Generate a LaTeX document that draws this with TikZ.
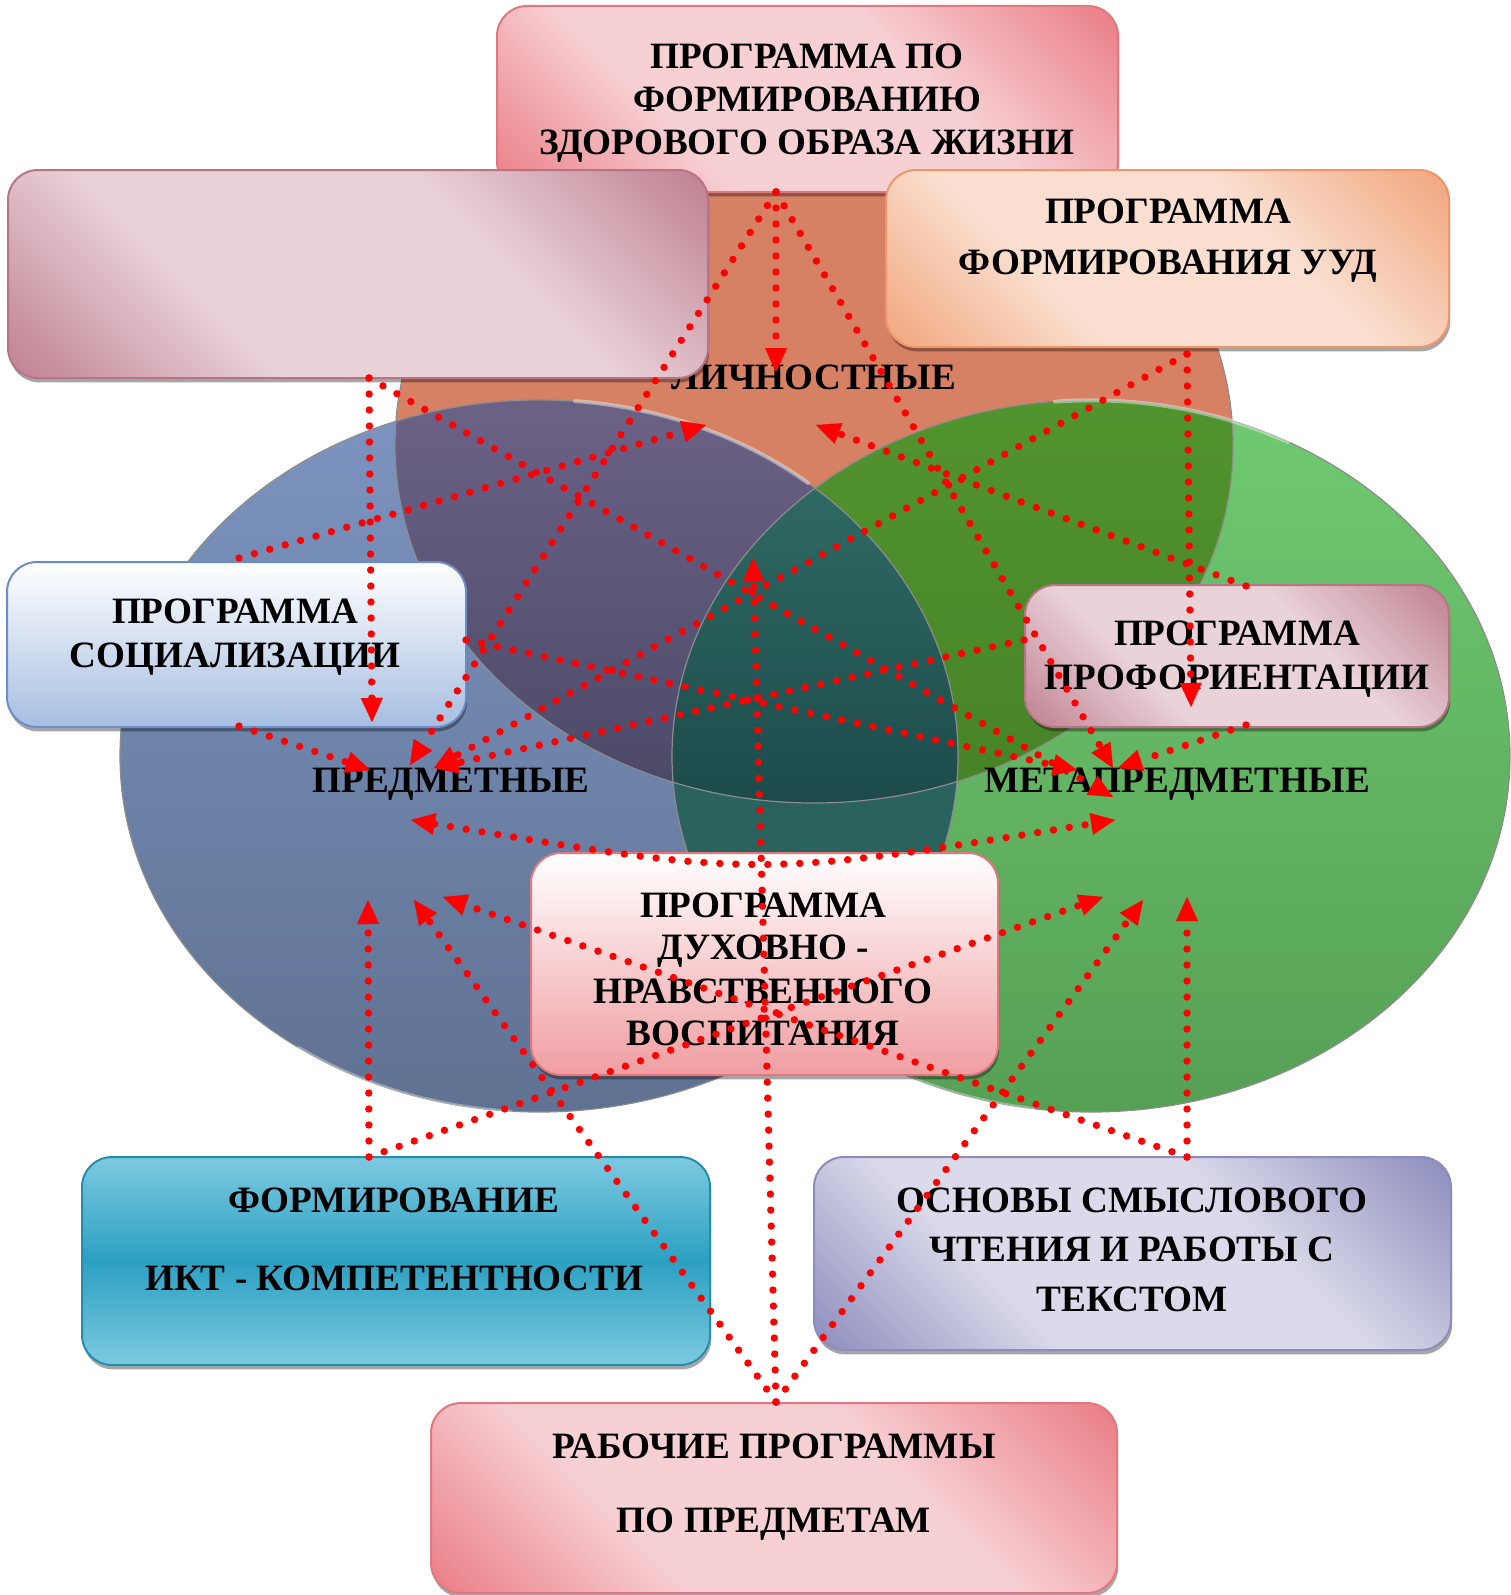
\documentclass[tikz,border=0pt]{standalone}
\usepackage{fontspec}
\setmainfont{Liberation Serif}
\usetikzlibrary{arrows.meta,shadows}
% ellipse colours
\definecolor{cTop}{RGB}{214,129,99}
\definecolor{cLtop}{RGB}{124,148,192}
\definecolor{cLbot}{RGB}{96,114,146}
\definecolor{cRtop}{RGB}{112,202,112}
\definecolor{cRbot}{RGB}{86,160,86}
\definecolor{cTLtop}{RGB}{108,98,134}
\definecolor{cTLbot}{RGB}{74,72,102}
\definecolor{cTRtop}{RGB}{82,148,46}
\definecolor{cTRbot}{RGB}{70,130,38}
\definecolor{cLR}{RGB}{42,98,94}
\definecolor{cTLRtop}{RGB}{48,106,100}
\definecolor{cTLRbot}{RGB}{28,74,74}
% box colours
\definecolor{zozD}{RGB}{234,122,130}
\definecolor{zozL}{RGB}{247,208,212}
\definecolor{zozB}{RGB}{225,120,128}
\definecolor{empD}{RGB}{190,126,143}
\definecolor{empL}{RGB}{233,210,216}
\definecolor{empB}{RGB}{185,115,135}
\definecolor{uudD}{RGB}{241,164,122}
\definecolor{uudL}{RGB}{250,223,208}
\definecolor{uudB}{RGB}{238,150,105}
\definecolor{socBot}{RGB}{166,190,225}
\definecolor{socB}{RGB}{108,142,198}
\definecolor{dukhBot}{RGB}{240,158,162}
\definecolor{dukhB}{RGB}{228,118,126}
\definecolor{iktL}{RGB}{124,202,224}
\definecolor{iktD}{RGB}{44,160,194}
\definecolor{iktB}{RGB}{38,140,172}
\definecolor{osnD}{RGB}{138,138,188}
\definecolor{osnL}{RGB}{218,218,234}
\definecolor{osnB}{RGB}{140,140,190}
\definecolor{arrRed}{RGB}{255,0,0}
\pgfdeclareverticalshading{shZoz}{100bp}{color(0bp)=(zozD); color(14bp)=(zozD); color(36bp)=(zozL); color(62bp)=(zozL); color(86bp)=(zozD); color(100bp)=(zozD)}
\pgfdeclareverticalshading{shEmp}{100bp}{color(0bp)=(empD); color(14bp)=(empD); color(36bp)=(empL); color(62bp)=(empL); color(86bp)=(empD); color(100bp)=(empD)}
\pgfdeclareverticalshading{shUud}{100bp}{color(0bp)=(uudD); color(14bp)=(uudD); color(36bp)=(uudL); color(62bp)=(uudL); color(86bp)=(uudD); color(100bp)=(uudD)}
\pgfdeclareverticalshading{shOsn}{100bp}{color(0bp)=(osnD); color(14bp)=(osnD); color(36bp)=(osnL); color(62bp)=(osnL); color(86bp)=(osnD); color(100bp)=(osnD)}
\newcommand\myEllTop{(814,445) ellipse [x radius=209.5pt, y radius=179pt]}
\newcommand\myEllLeft{(539,756) ellipse [x radius=209.5pt, y radius=178pt]}
\newcommand\myEllRight{(1091,756) ellipse [x radius=209.5pt, y radius=178pt]}
\tikzset{
  boxbase/.style={rounded corners=15pt, line width=1pt, inner sep=0pt,
    drop shadow={shadow xshift=0.6pt, shadow yshift=-2.2pt, fill=black, opacity=0.35}},
  gshade/.style={shading=#1, shading angle=-45},
  btxt/.style={font=\fontsize{18.6}{22}\selectfont\bfseries, inner sep=0pt, anchor=base},
  elab/.style={font=\fontsize{18.6}{22}\selectfont\bfseries, inner sep=0pt, anchor=base},
  conn/.style={arrRed, line width=3.7pt, line cap=round, dash pattern=on 0pt off 8pt,
    -{Triangle[length=12pt,width=11pt,line width=0.01pt]}},
  conn2/.style={arrRed, line width=3.7pt, line cap=round, dash pattern=on 0pt off 8pt,
    {Triangle[length=12pt,width=11pt,line width=0.01pt]}-{Triangle[length=12pt,width=11pt,line width=0.01pt]}},
}
\begin{document}
\begin{tikzpicture}[x=0.5pt,y=-0.5pt]
\useasboundingbox (0,0) rectangle (1510,1595);
% ---------- ellipses ----------
\fill[cTop] \myEllTop;
\shade[top color=cRtop, bottom color=cRbot] \myEllRight;
\shade[top color=cLtop, bottom color=cLbot] \myEllLeft;
\begin{scope}
  \clip \myEllTop;
  \clip \myEllLeft;
  \shade[top color=cTLtop, bottom color=cTLbot] (390,395) rectangle (1240,810);
\end{scope}
\begin{scope}
  \clip \myEllTop;
  \clip \myEllRight;
  \shade[top color=cTRtop, bottom color=cTRbot] (660,395) rectangle (1240,810);
\end{scope}
\begin{scope}
  \clip \myEllLeft;
  \clip \myEllRight;
  \fill[cLR] (660,395) rectangle (960,1120);
  \clip \myEllTop;
  \shade[top color=cTLRtop, bottom color=cTLRbot] (660,480) rectangle (960,810);
\end{scope}
\draw[black!45, line width=0.6pt] \myEllTop;
\draw[black!45, line width=0.6pt] \myEllRight;
\draw[black!45, line width=0.6pt] \myEllLeft;
% glossy rims
\draw[white, opacity=0.4, line width=2pt, line cap=round] (808,483) arc[start angle=50, end angle=85, x radius=209.5pt, y radius=178pt];
\draw[white, opacity=0.4, line width=2pt, line cap=round] (1288,442) arc[start angle=62, end angle=95, x radius=209.5pt, y radius=178pt];
\draw[white, opacity=0.3, line width=2pt, line cap=round] (299,1048) arc[start angle=235, end angle=266, x radius=209.5pt, y radius=178pt];
\draw[white, opacity=0.3, line width=2pt, line cap=round] (851,1048) arc[start angle=235, end angle=262, x radius=209.5pt, y radius=178pt];
% ---------- ellipse labels ----------
\node[elab] (lich) at (814,389) {ЛИЧНОСТНЫЕ};
\node[elab] (pred) at (451,792) {ПРЕДМЕТНЫЕ};
\node[elab] (meta) at (1177,792) {МЕТАПРЕДМЕТНЫЕ};
% ---------- boxes ----------
\node[boxbase, draw=zozB, gshade=shZoz, minimum width=310.5pt, minimum height=93pt] (zoz) at (807.5,99) {};
\node[boxbase, draw=empB, gshade=shEmp, minimum width=350pt, minimum height=104pt] (emp) at (358,274) {};
\node[boxbase, draw=uudB, gshade=shUud, minimum width=281.5pt, minimum height=88.5pt] (uud) at (1167.5,258.5) {};
\node[boxbase, draw=socB, top color=white, bottom color=socBot, minimum width=229.5pt, minimum height=82.5pt] (soc) at (236.5,644.5) {};
\node[boxbase, draw=empB, gshade=shEmp, minimum width=212pt, minimum height=71pt] (prof) at (1237,656) {};
\node[boxbase, draw=dukhB, top color=white, bottom color=dukhBot, minimum width=233.5pt, minimum height=111pt] (dukh) at (764.5,964) {};
\node[boxbase, draw=iktB, top color=iktL, bottom color=iktL, middle color=iktD, minimum width=314pt, minimum height=104pt] (ikt) at (396,1261) {};
\node[boxbase, draw=osnB, gshade=shOsn, minimum width=318.5pt, minimum height=96.5pt] (osn) at (1132.5,1253.5) {};
\node[boxbase, draw=zozB, gshade=shZoz, minimum width=343pt, minimum height=95pt] (rab) at (774,1498) {};
% ---------- box texts ----------
\node[btxt] (zozA) at (807,69) {ПРОГРАММА ПО};
\node[btxt] (zozB) at (807,112) {ФОРМИРОВАНИЮ};
\node[btxt] (zozC) at (807,155) {ЗДОРОВОГО ОБРАЗА ЖИЗНИ};
\node[btxt] (uudA) at (1168,223) {ПРОГРАММА};
\node[btxt] (uudB) at (1168,274) {ФОРМИРОВАНИЯ УУД};
\node[btxt] (socA) at (235,623) {ПРОГРАММА};
\node[btxt] (socB) at (235,667) {СОЦИАЛИЗАЦИИ};
\node[btxt] (profA) at (1237,645) {ПРОГРАММА};
\node[btxt] (profB) at (1237,689) {ПРОФОРИЕНТАЦИИ};
\node[btxt] (dukhA) at (763,917) {ПРОГРАММА};
\node[btxt] (dukhB) at (763,959) {ДУХОВНО -};
\node[btxt] (dukhC) at (763,1003) {НРАВСТВЕННОГО};
\node[btxt] (dukhD) at (763,1045) {ВОСПИТАНИЯ};
\node[btxt] (iktA) at (394,1212) {ФОРМИРОВАНИЕ};
\node[btxt] (iktB) at (394,1290) {ИКТ - КОМПЕТЕНТНОСТИ};
\node[btxt] (osnA) at (1132,1212) {ОСНОВЫ СМЫСЛОВОГО};
\node[btxt] (osnB) at (1132,1261) {ЧТЕНИЯ И РАБОТЫ С};
\node[btxt] (osnC) at (1132,1311) {ТЕКСТОМ};
\node[btxt] (rabA) at (774,1458) {РАБОЧИЕ ПРОГРАММЫ};
\node[btxt] (rabB) at (774,1532) {ПО ПРЕДМЕТАМ};
% ---------- connector ends ----------
\coordinate (T) at (776,192);
\coordinate (E) at (369,378);
\coordinate (U) at (1187,354);
\coordinate (S1) at (239,558);
\coordinate (S2) at (466,640);
\coordinate (S3) at (239,726);
\coordinate (P1) at (1246,586);
\coordinate (P2) at (1024,640);
\coordinate (P3) at (1246,725);
\coordinate (I) at (369,1157);
\coordinate (O) at (1187,1157);
\coordinate (B) at (776,1402);
\coordinate (L1) at (776,372);
\coordinate (L2) at (706,425);
\coordinate (L3) at (816,425);
\coordinate (Pr1) at (372,722);
\coordinate (Pr2) at (370,770);
\coordinate (Pr3) at (410,765);
\coordinate (Pr4) at (434,768);
\coordinate (Pr5) at (411,820);
\coordinate (Pr6) at (368,900);
\coordinate (Pr7) at (414,900);
\coordinate (Pr8) at (443,897);
\coordinate (M1) at (1077,770);
\coordinate (M2) at (1113,768);
\coordinate (M3) at (1118,768);
\coordinate (M4) at (1113,797);
\coordinate (M5) at (1115,820);
\coordinate (M6) at (1103,897);
\coordinate (M7) at (1143,900);
\coordinate (M8) at (1187,897);
\coordinate (U2) at (1191,707);
\coordinate (Ctr) at (753,558);
\coordinate (HC) at (758,878);
% ---------- connectors ----------
\draw[conn] (T) -- (L1);
\draw[conn] (T) -- (Pr3);
\draw[conn] (T) -- (M2);
\draw[conn] (E) -- (Pr1);
\draw[conn] (E) -- (M4);
\draw[conn] (U) -- (U2);
\draw[conn] (U) -- (Pr4);
\draw[conn] (S1) -- (L2);
\draw[conn] (S2) -- (M1);
\draw[conn] (S3) -- (Pr2);
\draw[conn] (P1) -- (L3);
\draw[conn] (P2) -- (Pr4);
\draw[conn] (P3) -- (M3);
\draw[conn] (I) -- (Pr6);
\draw[conn] (I) -- (M6);
\draw[conn] (O) -- (M8);
\draw[conn] (O) -- (Pr8);
\draw[conn] (B) -- (Ctr);
\draw[conn] (B) -- (Pr7);
\draw[conn] (B) -- (M7);
\draw[conn2] (Pr5) .. controls (HC) .. (M5);
\end{tikzpicture}
\end{document}
